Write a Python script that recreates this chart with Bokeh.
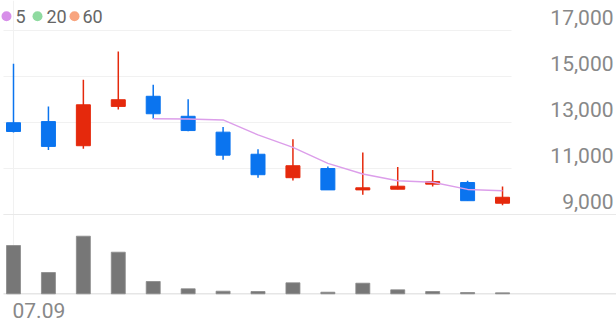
from bokeh.plotting import figure
from bokeh.models import Range1d
from bokeh.core.properties import value
from bokeh.embed import file_html
from bokeh.resources import INLINE

# ---------------- data ----------------
opens  = [12990, 13040, 11990, 13700, 14140, 13270, 12580, 11620, 10600, 11000, 10070, 10100, 10320, 10390, 9490]
highs  = [15550, 13700, 14860, 16090, 14640, 14010, 12800, 11840, 12270, 11090, 11700, 11060, 10940, 10470, 10220]
lows   = [12570, 11800, 11860, 13570, 13160, 12620, 11380, 10600, 10480, 10070, 9860, 10100, 10220, 9600, 9400]
closes = [12610, 11960, 13770, 13990, 13380, 12650, 11580, 10730, 11120, 10070, 10160, 10230, 10430, 9600, 9750]
volumes = [966000, 426000, 1152000, 832000, 246000, 100000, 52000, 46000, 220000, 32000, 212000, 80000, 46000, 26000, 20000]
ma5 = [None, None, None, None, 13160, 13150, 13110, 12460, 11920, 11220, 10760, 10470, 10400, 10090, 10030]

price_ticks = [9000, 11000, 13000, 15000, 17000]
price_tick_labels = ["9,000", "11,000", "13,000", "15,000", "17,000"]
x_tick_index = [0]
x_tick_labels = ["07.09"]
legend_labels = ["5", "20", "60"]
legend_colors = ["#d78fe9", "#8fdaa0", "#f8a47e"]

UP = "#e5290c"
DOWN = "#0a74ef"
MA_COLOR = "#dc9eea"
VOL_COLOR = "#777777"

# ---------------- layout (pixel geometry) ----------------
W, H = 616, 321
X0_PX, STEP_PX = 13.0, 34.93          # pixel x of first candle, spacing
P_BASE_PX, P_PER_PX = 214.0, 2000 / 46  # price 9000 at y=214, 46 px per 2000
V_BASE_PX, V_PER_PX = 293.3, 20000.0

def px2x(px):
    return (px - X0_PX) / STEP_PX

def py2p(py):
    return 9000 + (P_BASE_PX - py) * P_PER_PX

def py2v(py):
    return (V_BASE_PX - py) * V_PER_PX

p = figure(width=W, height=H, output_backend="svg", toolbar_location=None,
           x_range=Range1d(px2x(0), px2x(W)), y_range=Range1d(py2p(H), py2p(0)),
           x_axis_location=None, y_axis_location=None, min_border=0,
           outline_line_color=None, background_fill_color="white",
           border_fill_color="white")
p.extra_y_ranges = {"vol": Range1d(py2v(H), py2v(0))}
p.xgrid.visible = False
p.ygrid.visible = False

n = len(opens)
idx = list(range(n))

# grid lines
p.segment(x0=[px2x(3)] * len(price_ticks), x1=[px2x(511)] * len(price_ticks),
          y0=price_ticks, y1=price_ticks, line_color="#f1f1f1", line_width=1)
# vertical grid at x tick
p.segment(x0=x_tick_index, x1=x_tick_index, y0=[0] * len(x_tick_index),
          y1=[py2v(0)] * len(x_tick_index), y_range_name="vol",
          line_color="#f1f1f1", line_width=1)
# panel separators
p.segment(x0=[px2x(3)], x1=[px2x(W)], y0=[price_ticks[0]], y1=[price_ticks[0]],
          line_color="#e9e9e9", line_width=1.2)
p.segment(x0=[px2x(3)], x1=[px2x(W)], y0=[0], y1=[0], y_range_name="vol",
          line_color="#e6e6e6", line_width=1.5)

# volume
p.vbar(x=idx, top=volumes, bottom=0, width=14 / STEP_PX, y_range_name="vol",
       fill_color=VOL_COLOR, line_color="#8a8a8a", line_width=0.8)

# candles
colors = [UP if c >= o else DOWN for o, c in zip(opens, closes)]
p.segment(x0=idx, x1=idx, y0=lows, y1=highs, line_color=colors, line_width=1.5)
p.vbar(x=idx, top=[max(o, c) for o, c in zip(opens, closes)],
       bottom=[min(o, c) for o, c in zip(opens, closes)],
       width=14 / STEP_PX, fill_color=colors, line_color=colors, line_width=1)

# MA5
ma_x = [i for i, v in zip(idx, ma5) if v is not None]
ma_y = [v for v in ma5 if v is not None]
p.line(ma_x, ma_y, line_color=MA_COLOR, line_width=1.4)

# right price labels (ink centred ~13.5 px above each grid line)
p.text(x=[px2x(613)] * len(price_ticks), y=price_ticks, text=price_tick_labels,
       text_align="right", text_baseline="middle", y_offset=-13.5,
       text_font=value("Roboto"), text_font_size="21px", text_color="#888888")

# x labels
p.text(x=[px2x(X0_PX - 1) + i for i in x_tick_index], y=[0] * len(x_tick_index),
       text=x_tick_labels, y_range_name="vol", text_align="left",
       text_baseline="middle", y_offset=16.2,
       text_font=value("Roboto"), text_font_size="21px", text_color="#888888")

# legend
leg_dot_px = [6, 37, 74]
leg_txt_px = [15, 46, 82]
p.scatter(x=[px2x(v) for v in leg_dot_px], y=[py2p(15.7)] * 3, size=10,
          marker="circle", fill_color=legend_colors, line_color=None)
p.text(x=[px2x(v) for v in leg_txt_px], y=[py2p(15.5)] * 3, text=legend_labels,
       text_align="left", text_baseline="middle",
       text_font=value("Roboto"), text_font_size="18px", text_color="#666666")

open("out.html", "w").write(file_html(p, INLINE))
